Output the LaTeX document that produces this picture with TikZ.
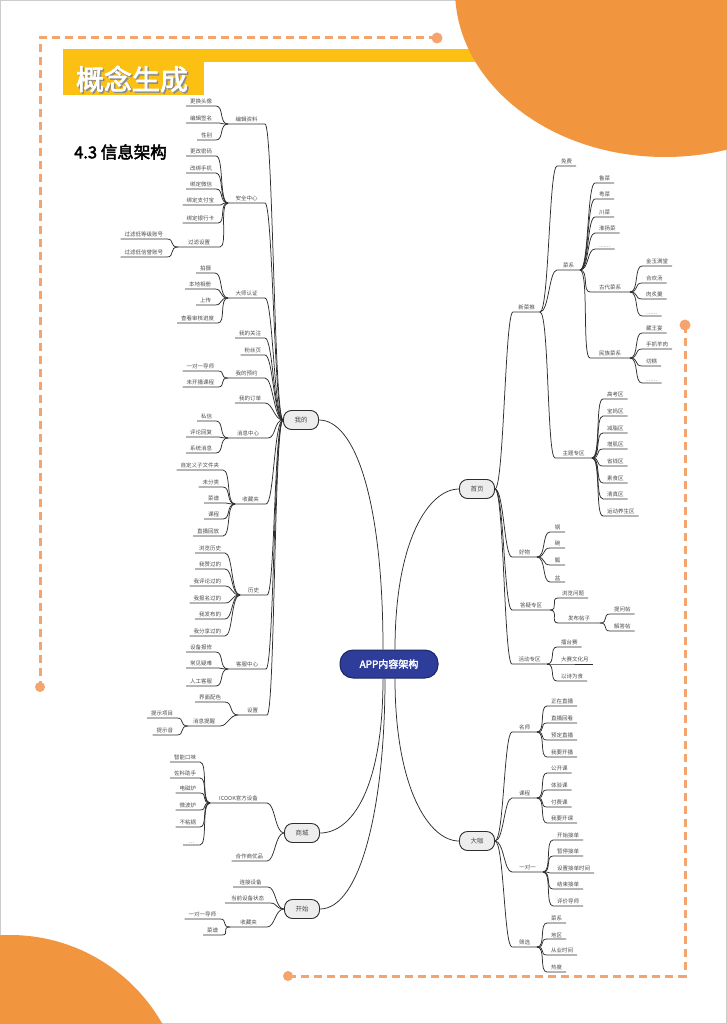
\documentclass[tikz,border=0pt]{standalone}
\usepackage{fontspec}
\setmainfont{Noto Sans CJK SC}
\newfontfamily\cjkb{Noto Sans CJK SC}[FakeBold=2.5]
\definecolor{edgeC}{HTML}{2E2E2E}
\definecolor{txtC}{HTML}{4D4D4D}
\definecolor{lonefill}{HTML}{EDEDED}
\definecolor{appC}{HTML}{2E3D99}
\definecolor{appD}{HTML}{1D2663}
\definecolor{orangeC}{HTML}{F2953F}
\definecolor{dashC}{HTML}{F4A46C}
\definecolor{yellowC}{HTML}{FCC012}
\tikzset{
  con/.style={draw=edgeC, line width=0.75pt},
  leaf/.style={font=\fontsize{5.5}{6}\selectfont, text=txtC, inner xsep=4pt, inner ysep=1.6pt, outer sep=0pt},
  lf/.style={leaf, anchor=south east},
  rf/.style={leaf, anchor=south west},
  lone/.style={draw=edgeC, fill=lonefill, rounded corners=8pt, minimum width=35pt, minimum height=19pt, font=\fontsize{6.5}{7}\selectfont, text=txtC, line width=0.9pt, inner sep=1pt},
  appbox/.style={draw=appD, fill=appC, rounded corners=13pt, minimum width=98pt, minimum height=28pt, font=\cjkb\fontsize{10}{11}\selectfont, text=white, line width=1pt},
  dashln/.style={draw=dashC, line width=3pt, dash pattern=on 8pt off 5pt},
}
\newcommand\mmL[2]{\draw[con] (#1) .. controls +(-9,0) and +(8,0) .. (#2.south east) -- (#2.south west);}
\newcommand\mmR[2]{\draw[con] (#1) .. controls +(9,0) and +(-8,0) .. (#2.south west) -- (#2.south east);}
\begin{document}
\begin{tikzpicture}[x=1pt,y=-1pt]
\path[use as bounding box] (0,0) rectangle (727,1024);
\fill[white] (0,0) rectangle (727,1024);
\draw[gray!40, line width=1pt] (0.5,0.5) rectangle (726.5,1023.5);
% decoration
\fill[yellowC] (63,49) rectangle (520,62);
\fill[yellowC] (63,49) rectangle (204,95);
\begin{scope}
\clip (0,0) rectangle (727,1024);
\fill[orangeC] (665,-10) ellipse [x radius=210pt, y radius=167pt];
\fill[orangeC] (10,1110) circle [radius=175pt];
\end{scope}
\draw[dashln] (437,38) -- (40,38) -- (40,687);
\fill[dashC] (437,38) circle [radius=5.5pt];
\fill[dashC] (40,687) circle [radius=5pt];
\draw[dashln] (685,325) -- (685,976) -- (288,976);
\fill[dashC] (685,325) circle [radius=5.5pt];
\fill[dashC] (288,976) circle [radius=5pt];
\node[font=\cjkb\fontsize{28}{30}\selectfont, text=black!45] (titleshadow) at (133.5,80.5) {概念生成};
\node[font=\cjkb\fontsize{28}{30}\selectfont, text=white] (title) at (132,79) {概念生成};
\node[font=\cjkb\fontsize{16.5}{18}\selectfont, text=black, anchor=west, inner sep=0pt] (subtitle) at (74,152) {4.3 信息架构};

% main nodes
\node[appbox] (app) at (389,664) {APP内容架构};
\node[lone] (wode) at (301,420) {我的};
\node[lone] (shouye) at (477,489) {首页};
\node[lone] (shangcheng) at (302,833) {商城};
\node[lone] (kaishi) at (302,909) {开始};
\node[lone] (daka) at (477,841) {大咖};

\draw[con] ([xshift=-6pt]app.north) .. controls +(0,-150) and +(36,0) .. (wode.east);
\draw[con] ([xshift=6pt]app.north) .. controls +(0,-110) and +(-30,0) .. (shouye.west);
\draw[con] ([xshift=-6pt]app.south) .. controls +(0,110) and +(32,0) .. (shangcheng.east);
\draw[con] ([xshift=-4pt]app.south) .. controls +(0,130) and +(40,0) .. (kaishi.east);
\draw[con] ([xshift=6pt]app.south) .. controls +(0,110) and +(-30,0) .. (daka.west);

% ===== 我的 =====
\node[lf, minimum width=37pt] (bjzl) at (265,124) {编辑资料};
\node[lf, minimum width=37pt] (aqzx) at (265,203) {安全中心};
\node[lf, minimum width=37pt] (dsrz) at (265,298) {大师认证};
\node[lf] (wdgz) at (265,338) {我的关注};
\node[lf] (fsy) at (265,355) {粉丝页};
\node[lf, minimum width=37pt] (wdyy) at (265,378) {我的预约};
\node[lf] (wddd) at (265,403) {我的订单};
\node[lf, minimum width=40pt] (xxzx) at (268,438) {消息中心};
\node[lf, minimum width=31pt] (scj) at (266,504) {收藏夹};
\node[lf, minimum width=27pt] (ls) at (267,595) {历史};
\node[lf, minimum width=38pt] (kfzx) at (266,669) {客服中心};
\node[lf, minimum width=29pt] (sz) at (267,715) {设置};
\foreach \c in {bjzl,aqzx,dsrz,wdgz,fsy,wdyy,wddd,xxzx,scj,ls,kfzx,sz} {\mmL{wode.west}{\c}}

\node[lf] (ghtx) at (216,106) {更换头像};
\node[lf] (bjqm) at (216,123) {编辑签名};
\node[lf] (xb) at (216,140) {性别};
\foreach \c in {ghtx,bjqm,xb} {\mmL{bjzl.south west}{\c}}

\node[lf] (ggmm) at (216,156) {更改密码};
\node[lf] (gbsj) at (216,173) {改绑手机};
\node[lf] (bdwx) at (216,189) {绑定微信};
\node[lf] (bdzfb) at (218,205) {绑定支付宝};
\node[lf] (bdyhk) at (218,223) {绑定银行卡};
\node[lf, minimum width=42pt] (glsz) at (220,247) {过滤设置};
\foreach \c in {ggmm,gbsj,bdwx,bdzfb,bdyhk,glsz} {\mmL{aqzx.south west}{\c}}
\node[lf] (gldd) at (167,239) {过滤低等级账号};
\node[lf] (gldx) at (167,257) {过滤低信誉账号};
\foreach \c in {gldd,gldx} {\mmL{glsz.south west}{\c}}

\node[lf] (ps) at (215,273) {拍摄};
\node[lf] (bdxc) at (215,289) {本地相册};
\node[lf] (sc) at (215,305) {上传};
\node[lf] (ckjd) at (218,323) {查看审核进度};
\foreach \c in {ps,bdxc,sc,ckjd} {\mmL{dsrz.south west}{\c}}

\node[lf] (ydya) at (218,371) {一对一导师};
\node[lf] (wkkc) at (218,387) {未开播课程};
\foreach \c in {ydya,wkkc} {\mmL{wdyy.south west}{\c}}

\node[lf] (sixin) at (216,421) {私信};
\node[lf] (plhf) at (216,437) {评论回复};
\node[lf] (xtxx) at (216,453) {系统消息};
\foreach \c in {sixin,plhf,xtxx} {\mmL{xxzx.south west}{\c}}

\node[lf] (zdy) at (223,470) {自定义子文件夹};
\node[lf] (wfl) at (223,487) {未分类};
\node[lf] (caipu) at (223,503) {菜谱};
\node[lf] (kecheng) at (223,519) {课程};
\node[lf] (zbhf) at (223,536) {直播回放};
\foreach \c in {zdy,wfl,caipu,kecheng,zbhf} {\mmL{scj.south west}{\c}}

\node[lf] (llls) at (225,553) {浏览历史};
\node[lf] (wzgd) at (225,569) {我赞过的};
\node[lf] (wplgd) at (225,586) {我评论过的};
\node[lf] (wbmgd) at (225,603) {我报名过的};
\node[lf] (wfbd) at (225,619) {我发布的};
\node[lf] (wfxgd) at (225,636) {我分享过的};
\foreach \c in {llls,wzgd,wplgd,wbmgd,wfbd,wfxgd} {\mmL{ls.south west}{\c}}

\node[lf] (sbbx) at (216,652) {设备报修};
\node[lf] (cjyn) at (216,668) {常见疑难};
\node[lf] (rgkf) at (216,686) {人工客服};
\foreach \c in {sbbx,cjyn,rgkf} {\mmL{kfzx.south west}{\c}}

\node[lf] (jmps) at (225,702) {界面配色};
\node[lf, minimum width=32pt] (xxtx) at (220,726) {消息提醒};
\foreach \c in {jmps,xxtx} {\mmL{sz.south west}{\c}}
\node[lf] (tsxm) at (177,718) {提示项目};
\node[lf] (tsy) at (177,735) {提示音};
\foreach \c in {tsxm,tsy} {\mmL{xxtx.south west}{\c}}

% ===== 商城 =====
\node[lf, minimum width=57pt] (icook) at (267,803) {ICOOK官方设备};
\node[lf] (hzsyp) at (267,861) {合作商优品};
\foreach \c in {icook,hzsyp} {\mmL{shangcheng.west}{\c}}
\node[lf] (znkw) at (200,762) {智能口味};
\node[lf] (zlzs) at (200,778) {佐料助手};
\node[lf] (dcl) at (200,793) {电磁炉};
\node[lf] (wbl) at (200,810) {微波炉};
\node[lf] (bzg) at (200,827) {不粘锅};
\node[lf, minimum width=17pt] (sbdots) at (200,845) {…};
\foreach \c in {znkw,zlzs,dcl,wbl,bzg,sbdots} {\mmL{icook.south west}{\c}}

% ===== 开始 =====
\node[lf, minimum width=35pt] (ljsb) at (268,887) {连接设备};
\node[lf, minimum width=45pt] (dqzt) at (270,903) {当前设备状态};
\node[lf, minimum width=37pt] (scjb) at (267,927) {收藏夹};
\foreach \c in {ljsb,dqzt,scjb} {\mmL{kaishi.west}{\c}}
\node[lf] (ydyb) at (220,919) {一对一导师};
\node[lf] (caipub) at (222,935) {菜谱};
\foreach \c in {ydyb,caipub} {\mmL{scjb.south west}{\c}}

% ===== 首页 =====
\node[rf, minimum width=27pt] (xct) at (513,312) {新菜推};
\node[rf, minimum width=25pt] (haowu) at (512,557) {好物};
\node[rf, minimum width=38pt] (dyzq) at (512,610) {答疑专区};
\node[rf, minimum width=35pt] (hdzq) at (512,664) {活动专区};
\foreach \c in {xct,haowu,dyzq,hdzq} {\mmR{shouye.east}{\c}}

\node[rf] (mianfei) at (557,166) {免费};
\node[rf, minimum width=23pt] (caixi) at (557,270) {菜系};
\node[rf, minimum width=37pt] (ztzq) at (555,458) {主题专区};
\foreach \c in {mianfei,caixi,ztzq} {\mmR{xct.south east}{\c}}

\node[rf] (lucai) at (595,183) {鲁菜};
\node[rf] (yuecai) at (595,199) {粤菜};
\node[rf] (chuancai) at (595,217) {川菜};
\node[rf] (hyc) at (595,233) {淮扬菜};
\node[rf] (cxdots) at (595,249) {……};
\node[rf, minimum width=40pt] (gdcx) at (590,292) {古代菜系};
\node[rf, minimum width=40pt] (mzcx) at (590,358) {民族菜系};
\foreach \c in {lucai,yuecai,chuancai,hyc,cxdots,gdcx,mzcx} {\mmR{caixi.south east}{\c}}

\node[rf] (jymt) at (642,266) {金玉满堂};
\node[rf] (hht) at (642,283) {合欢汤};
\node[rf] (rzg) at (642,299) {肉炙羹};
\node[rf] (gddots) at (642,316) {……};
\foreach \c in {jymt,hht,rzg,gddots} {\mmR{gdcx.south east}{\c}}

\node[rf] (zwy) at (642,333) {藏王宴};
\node[rf] (szyr) at (642,349) {手抓羊肉};
\node[rf] (qiegao) at (642,366) {切糕};
\node[rf] (mzdots) at (642,383) {……};
\foreach \c in {zwy,szyr,qiegao,mzdots} {\mmR{mzcx.south east}{\c}}

\node[rf] (gkq) at (603,399) {高考区};
\node[rf] (bmq) at (603,416) {宝妈区};
\node[rf] (jzq) at (603,433) {减脂区};
\node[rf] (zjq) at (603,449) {增肌区};
\node[rf] (sqq) at (603,466) {省钱区};
\node[rf] (ssq) at (603,483) {素食区};
\node[rf] (qzq) at (603,499) {清真区};
\node[rf] (ydys) at (603,516) {运动养生区};
\foreach \c in {gkq,bmq,jzq,zjq,sqq,ssq,qzq,ydys} {\mmR{ztzq.south east}{\c}}

\node[rf, minimum width=15pt] (guo) at (550,532) {锅};
\node[rf, minimum width=15pt] (wan) at (550,548) {碗};
\node[rf, minimum width=15pt] (piao) at (550,565) {瓢};
\node[rf, minimum width=15pt] (pen) at (550,582) {盆};
\foreach \c in {guo,wan,piao,pen} {\mmR{haowu.south east}{\c}}

\node[rf] (llwt) at (558,598) {浏览问题};
\node[rf, minimum width=42pt] (fbtz) at (558,623) {发布帖子};
\foreach \c in {llwt,fbtz} {\mmR{dyzq.south east}{\c}}
\node[rf] (twt) at (610,614) {提问帖};
\node[rf] (jdt) at (610,631) {解答帖};
\foreach \c in {twt,jdt} {\mmR{fbtz.south east}{\c}}

\node[rf] (lts) at (557,647) {擂台赛};
\node[rf] (dswhy) at (557,664) {大赛文化月};
\node[rf] (yswsh) at (557,681) {以诗为食};
\foreach \c in {lts,dswhy,yswsh} {\mmR{hdzq.south east}{\c}}

% ===== 大咖 =====
\node[rf, minimum width=25pt] (mingshi) at (512,732) {名师};
\node[rf, minimum width=25pt] (kcb) at (512,798) {课程};
\node[rf, minimum width=31pt] (ydyc) at (512,872) {一对一};
\node[rf, minimum width=25pt] (shaixuan) at (512,947) {筛选};
\foreach \c in {mingshi,kcb,ydyc,shaixuan} {\mmR{daka.east}{\c}}

\node[rf] (zzzb) at (547,706) {正在直播};
\node[rf] (zbhk) at (547,723) {直播回看};
\node[rf] (ydzb) at (547,740) {预定直播};
\node[rf] (wykb) at (547,757) {我要开播};
\foreach \c in {zzzb,zbhk,ydzb,wykb} {\mmR{mingshi.south east}{\c}}

\node[rf] (gkk) at (547,773) {公开课};
\node[rf] (tyk) at (547,790) {体验课};
\node[rf] (ffk) at (547,807) {付费课};
\node[rf] (wykk) at (547,823) {我要开课};
\foreach \c in {gkk,tyk,ffk,wykk} {\mmR{kcb.south east}{\c}}

\node[rf] (ksjd) at (553,840) {开始接单};
\node[rf] (ztjd) at (553,856) {暂停接单};
\node[rf] (szsj) at (553,873) {设置接单时间};
\node[rf] (jsjd) at (553,889) {结束接单};
\node[rf] (pjds) at (553,906) {评价导师};
\foreach \c in {ksjd,ztjd,szsj,jsjd,pjds} {\mmR{ydyc.south east}{\c}}

\node[rf] (cxb) at (547,923) {菜系};
\node[rf] (diqu) at (547,939) {地区};
\node[rf] (cysj) at (547,955) {从业时间};
\node[rf] (redu) at (547,972) {热度};
\foreach \c in {cxb,diqu,cysj,redu} {\mmR{shaixuan.south east}{\c}}
\end{tikzpicture}
\end{document}
